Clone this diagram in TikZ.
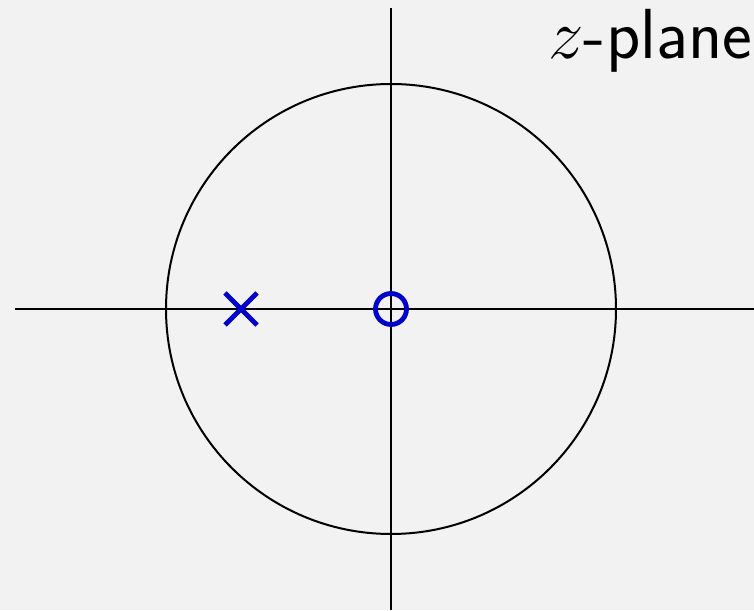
\documentclass[tikz,border=0pt]{standalone}
\usetikzlibrary{calc}
\begin{document}
\begin{tikzpicture}[x=1pt,y=1pt,
  axis/.style={line width=2.4pt,black},
  unitcirc/.style={line width=2pt,black},
  pzmark/.style={line width=4.8pt,color={rgb,255:red,0;green,0;blue,204}}]
\fill[color={rgb,255:red,242;green,242;blue,242}] (0,0) rectangle (754,610);
\useasboundingbox (0,0) rectangle (754,610);
\coordinate (O) at (391,301);
\coordinate (xl) at (15,301);
\coordinate (xr) at (754,301);
\coordinate (yb) at (391,0);
\coordinate (yt) at (391,602);
\draw[axis] (xl) -- (xr);
\draw[axis] (yb) -- (yt);
\draw[unitcirc] (O) circle[radius=225];
\draw[pzmark] (O) circle[radius=15.5];
\coordinate (P) at (241,301);
\draw[pzmark] ($(P)+(-16,-16)$) -- ($(P)+(16,16)$);
\draw[pzmark] ($(P)+(-16,16)$) -- ($(P)+(16,-16)$);
\node[anchor=base west,inner sep=0pt,scale=2.85,font=\fontsize{24.88}{30}\selectfont\sffamily] (lbl) at (548,551) {$z$-plane};
\end{tikzpicture}
\end{document}
